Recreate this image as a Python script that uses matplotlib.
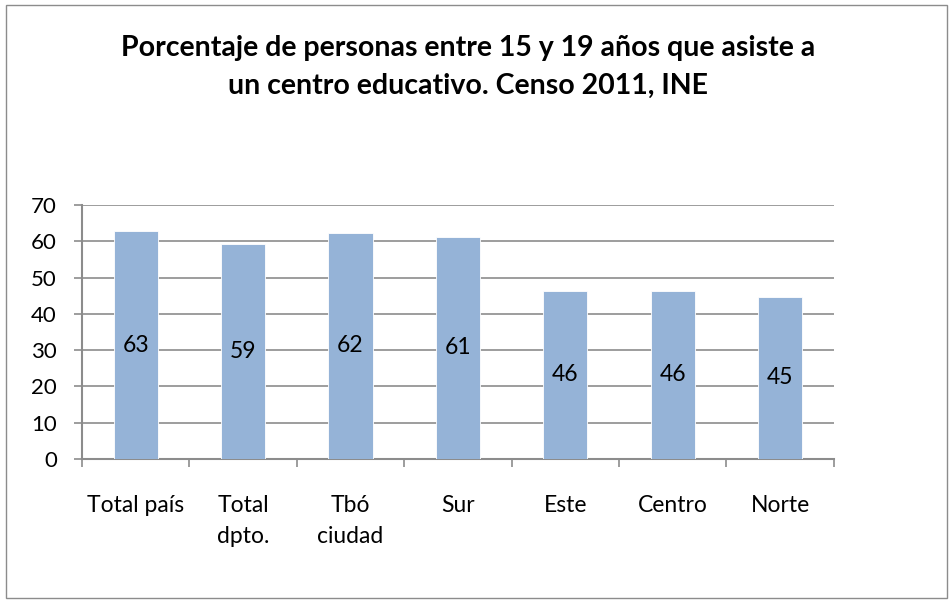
import numpy as np
import matplotlib
matplotlib.use('Agg')
import matplotlib.pyplot as plt
from matplotlib.patches import Rectangle

categories = ["Total país", "Total\ndpto.", "Tbó\nciudad", "Sur", "Este", "Centro", "Norte"]
values = [62.8, 59.2, 62.3, 61.2, 46.3, 46.3, 44.7]
labels = ["63", "59", "62", "61", "46", "46", "45"]

plt.rcParams['font.family'] = ['Lato', 'DejaVu Sans']

fig = plt.figure(figsize=(9.53, 6.03), dpi=100)
ax = fig.add_axes([0.086, 0.239, 0.789, 0.421])

x = np.arange(len(categories))
bars = ax.bar(x, values, width=0.41, color="#95B3D7", edgecolor="white", linewidth=0.6, zorder=3)
for b, v, lab in zip(bars, values, labels):
    ax.text(b.get_x() + b.get_width() / 2, v / 2, lab, ha="center", va="center",
            fontsize=16.5, color="black", zorder=4)

ax.set_xlim(-0.5, len(categories) - 0.5)
ax.set_ylim(0, 70)
ax.set_yticks(range(0, 71, 10))
ax.yaxis.grid(True, color="#8c8c8c", linewidth=1.2, zorder=0)
ax.set_xticks(np.arange(-0.5, len(categories), 1))
ax.set_xticklabels([])
ax.set_xticks(x, minor=True)
ax.set_xticklabels(categories, minor=True, fontsize=16.5, linespacing=1.6, va="top")
ax.tick_params(axis="x", which="minor", length=0, pad=26)
ax.tick_params(axis="x", which="major", length=6, width=1.2, color="#8c8c8c", direction="out")
ax.tick_params(axis="y", length=6, width=1.2, color="#8c8c8c", labelsize=16, pad=12)
for s in ["top", "right"]:
    ax.spines[s].set_visible(False)
for s in ["left", "bottom"]:
    ax.spines[s].set_color("#8c8c8c")
    ax.spines[s].set_linewidth(1.5)

fig.text(0.491, 0.889, "Porcentaje de personas entre 15 y 19 años que asiste a\nun centro educativo. Censo 2011, INE",
         ha="center", va="center", fontsize=20.5, fontweight="bold", linespacing=1.55)

fig.patches.append(Rectangle((0.006, 0.008), 0.988, 0.984, transform=fig.transFigure,
                             fill=False, edgecolor="#8c8c8c", linewidth=1))

fig.savefig("out.png", dpi=100)
